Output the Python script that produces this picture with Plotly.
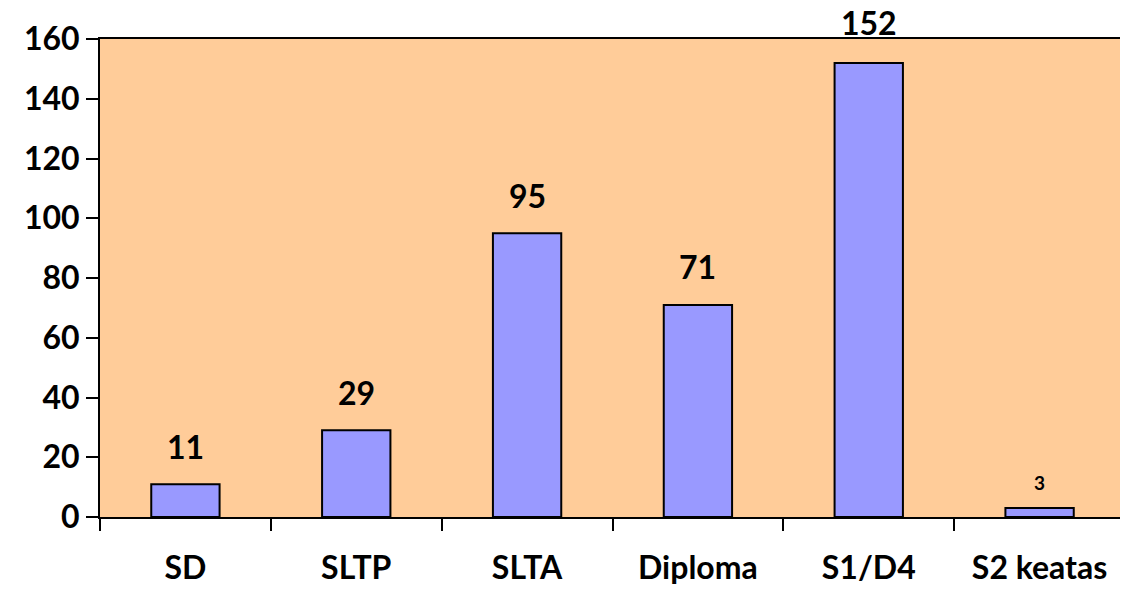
import plotly.graph_objects as go

categories = ["SD", "SLTP", "SLTA", "Diploma", "S1/D4", "S2 keatas"]
values = [11, 29, 95, 71, 152, 3]
label_sizes = [32, 32, 32, 32, 32, 19]
label_shifts = [38, 38, 38, 38, 40, 26]
y_ticks = [0, 20, 40, 60, 80, 100, 120, 140, 160]

FONT = "Lato"

fig = go.Figure()
fig.add_trace(go.Bar(
    x=categories, y=values,
    marker=dict(color="#9999FF", line=dict(color="black", width=2)),
    width=0.4,
))

for c, v, s, sh in zip(categories, values, label_sizes, label_shifts):
    fig.add_annotation(x=c, y=v, text=f"<b>{v}</b>", showarrow=False,
                       yanchor="middle", yshift=sh, borderpad=0,
                       font=dict(family=FONT, size=s, color="black"))

# page body has an 8px default margin: compensate in size/margins
fig.update_layout(
    width=1120, height=587,
    margin=dict(l=92, r=3, t=31, b=78, autoexpand=False),
    paper_bgcolor="white",
    plot_bgcolor="#FFCC99",
    showlegend=False,
    font=dict(family=FONT, color="black"),
)
fig.update_xaxes(
    type="category", tickson="boundaries",
    showline=True, linecolor="black", linewidth=2, mirror=True,
    ticks="outside", ticklen=12, tickwidth=2, tickcolor="black",
    tickfont=dict(family=FONT, size=32, color="black", weight="bold"),
    ticklabelstandoff=22,
    showgrid=False, zeroline=False, automargin=False,
)
fig.update_yaxes(
    range=[0, 160], tickvals=y_ticks,
    showline=True, linecolor="black", linewidth=2, mirror=True,
    ticks="outside", ticklen=12, tickwidth=2, tickcolor="black",
    tickfont=dict(family=FONT, size=32, color="black", weight="bold"),
    showgrid=False, zeroline=False, automargin=False,
)

fig.write_html("out.html")
